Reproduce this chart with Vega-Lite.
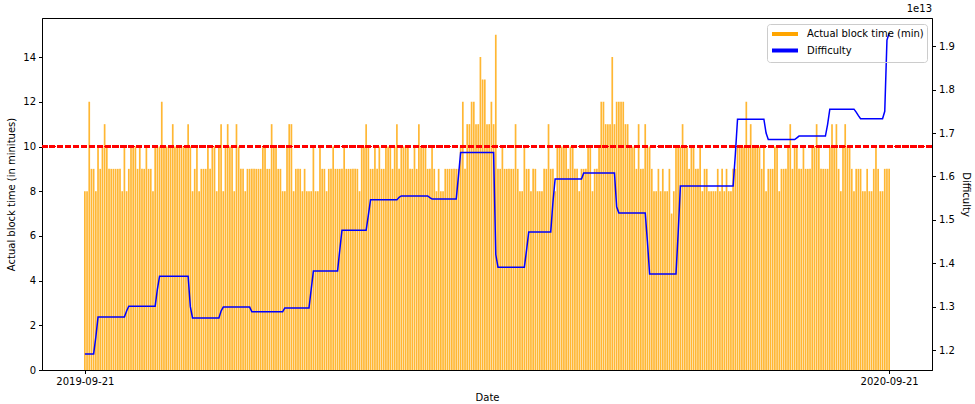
{
"$schema": "https://vega.github.io/schema/vega-lite/v6.json",
"width": 890, "height": 352,
"autosize": {"type": "none"},
"padding": {"left": 42, "top": 18, "right": 43, "bottom": 34},
"background": "white",
"title": {"text": "1e13", "anchor": "end", "frame": "group", "fontSize": 10, "fontWeight": "normal", "font": "DejaVu Sans", "color": "black", "offset": 4},
"config": {
  "font": "DejaVu Sans",
  "view": {"stroke": "black", "strokeWidth": 1},
  "axis": {"labelFont": "DejaVu Sans", "labelFontSize": 10, "labelColor": "black", "titleFont": "DejaVu Sans", "titleFontSize": 10, "titleFontWeight": "normal", "titleColor": "black", "domainColor": "black", "tickColor": "black", "tickSize": 3.5, "grid": false, "labelPadding": 3}
},
"data": {"values": [
{"date":"2019-09-21","block_time":8,"difficulty":1.191e13},
{"date":"2019-09-22","block_time":8,"difficulty":1.191e13},
{"date":"2019-09-23","block_time":12,"difficulty":1.191e13},
{"date":"2019-09-24","block_time":9,"difficulty":1.191e13},
{"date":"2019-09-25","block_time":9,"difficulty":1.191e13},
{"date":"2019-09-26","block_time":8,"difficulty":1.23e13},
{"date":"2019-09-27","block_time":10,"difficulty":1.276e13},
{"date":"2019-09-28","block_time":9,"difficulty":1.276e13},
{"date":"2019-09-29","block_time":10,"difficulty":1.276e13},
{"date":"2019-09-30","block_time":11,"difficulty":1.276e13},
{"date":"2019-10-01","block_time":10,"difficulty":1.276e13},
{"date":"2019-10-02","block_time":9,"difficulty":1.276e13},
{"date":"2019-10-03","block_time":9,"difficulty":1.276e13},
{"date":"2019-10-04","block_time":9,"difficulty":1.276e13},
{"date":"2019-10-05","block_time":9,"difficulty":1.276e13},
{"date":"2019-10-06","block_time":9,"difficulty":1.276e13},
{"date":"2019-10-07","block_time":9,"difficulty":1.276e13},
{"date":"2019-10-08","block_time":8,"difficulty":1.276e13},
{"date":"2019-10-09","block_time":10,"difficulty":1.276e13},
{"date":"2019-10-10","block_time":8,"difficulty":1.29e13},
{"date":"2019-10-11","block_time":9,"difficulty":1.301e13},
{"date":"2019-10-12","block_time":10,"difficulty":1.301e13},
{"date":"2019-10-13","block_time":10,"difficulty":1.301e13},
{"date":"2019-10-14","block_time":10,"difficulty":1.301e13},
{"date":"2019-10-15","block_time":9,"difficulty":1.301e13},
{"date":"2019-10-16","block_time":10,"difficulty":1.301e13},
{"date":"2019-10-17","block_time":9,"difficulty":1.301e13},
{"date":"2019-10-18","block_time":9,"difficulty":1.301e13},
{"date":"2019-10-19","block_time":10,"difficulty":1.301e13},
{"date":"2019-10-20","block_time":9,"difficulty":1.301e13},
{"date":"2019-10-21","block_time":9,"difficulty":1.301e13},
{"date":"2019-10-22","block_time":8,"difficulty":1.301e13},
{"date":"2019-10-23","block_time":10,"difficulty":1.301e13},
{"date":"2019-10-24","block_time":10,"difficulty":1.34e13},
{"date":"2019-10-25","block_time":10,"difficulty":1.37e13},
{"date":"2019-10-26","block_time":12,"difficulty":1.37e13},
{"date":"2019-10-27","block_time":10,"difficulty":1.37e13},
{"date":"2019-10-28","block_time":10,"difficulty":1.37e13},
{"date":"2019-10-29","block_time":10,"difficulty":1.37e13},
{"date":"2019-10-30","block_time":10,"difficulty":1.37e13},
{"date":"2019-10-31","block_time":11,"difficulty":1.37e13},
{"date":"2019-11-01","block_time":10,"difficulty":1.37e13},
{"date":"2019-11-02","block_time":10,"difficulty":1.37e13},
{"date":"2019-11-03","block_time":10,"difficulty":1.37e13},
{"date":"2019-11-04","block_time":10,"difficulty":1.37e13},
{"date":"2019-11-05","block_time":10,"difficulty":1.37e13},
{"date":"2019-11-06","block_time":10,"difficulty":1.37e13},
{"date":"2019-11-07","block_time":11,"difficulty":1.37e13},
{"date":"2019-11-08","block_time":10,"difficulty":1.30e13},
{"date":"2019-11-09","block_time":8,"difficulty":1.274e13},
{"date":"2019-11-10","block_time":9,"difficulty":1.274e13},
{"date":"2019-11-11","block_time":10,"difficulty":1.274e13},
{"date":"2019-11-12","block_time":8,"difficulty":1.274e13},
{"date":"2019-11-13","block_time":9,"difficulty":1.274e13},
{"date":"2019-11-14","block_time":9,"difficulty":1.274e13},
{"date":"2019-11-15","block_time":9,"difficulty":1.274e13},
{"date":"2019-11-16","block_time":10,"difficulty":1.274e13},
{"date":"2019-11-17","block_time":9,"difficulty":1.274e13},
{"date":"2019-11-18","block_time":10,"difficulty":1.274e13},
{"date":"2019-11-19","block_time":10,"difficulty":1.274e13},
{"date":"2019-11-20","block_time":8,"difficulty":1.274e13},
{"date":"2019-11-21","block_time":10,"difficulty":1.274e13},
{"date":"2019-11-22","block_time":11,"difficulty":1.29e13},
{"date":"2019-11-23","block_time":8,"difficulty":1.299e13},
{"date":"2019-11-24","block_time":10,"difficulty":1.299e13},
{"date":"2019-11-25","block_time":11,"difficulty":1.299e13},
{"date":"2019-11-26","block_time":10,"difficulty":1.299e13},
{"date":"2019-11-27","block_time":10,"difficulty":1.299e13},
{"date":"2019-11-28","block_time":8,"difficulty":1.299e13},
{"date":"2019-11-29","block_time":11,"difficulty":1.299e13},
{"date":"2019-11-30","block_time":10,"difficulty":1.299e13},
{"date":"2019-12-01","block_time":9,"difficulty":1.299e13},
{"date":"2019-12-02","block_time":9,"difficulty":1.299e13},
{"date":"2019-12-03","block_time":8,"difficulty":1.299e13},
{"date":"2019-12-04","block_time":9,"difficulty":1.299e13},
{"date":"2019-12-05","block_time":9,"difficulty":1.299e13},
{"date":"2019-12-06","block_time":9,"difficulty":1.288e13},
{"date":"2019-12-07","block_time":9,"difficulty":1.288e13},
{"date":"2019-12-08","block_time":9,"difficulty":1.288e13},
{"date":"2019-12-09","block_time":9,"difficulty":1.288e13},
{"date":"2019-12-10","block_time":9,"difficulty":1.288e13},
{"date":"2019-12-11","block_time":10,"difficulty":1.288e13},
{"date":"2019-12-12","block_time":10,"difficulty":1.288e13},
{"date":"2019-12-13","block_time":9,"difficulty":1.288e13},
{"date":"2019-12-14","block_time":9,"difficulty":1.288e13},
{"date":"2019-12-15","block_time":11,"difficulty":1.288e13},
{"date":"2019-12-16","block_time":10,"difficulty":1.288e13},
{"date":"2019-12-17","block_time":10,"difficulty":1.288e13},
{"date":"2019-12-18","block_time":9,"difficulty":1.288e13},
{"date":"2019-12-19","block_time":9,"difficulty":1.288e13},
{"date":"2019-12-20","block_time":8,"difficulty":1.288e13},
{"date":"2019-12-21","block_time":8,"difficulty":1.297e13},
{"date":"2019-12-22","block_time":10,"difficulty":1.297e13},
{"date":"2019-12-23","block_time":11,"difficulty":1.297e13},
{"date":"2019-12-24","block_time":11,"difficulty":1.297e13},
{"date":"2019-12-25","block_time":8,"difficulty":1.297e13},
{"date":"2019-12-26","block_time":9,"difficulty":1.297e13},
{"date":"2019-12-27","block_time":9,"difficulty":1.297e13},
{"date":"2019-12-28","block_time":9,"difficulty":1.297e13},
{"date":"2019-12-29","block_time":8,"difficulty":1.297e13},
{"date":"2019-12-30","block_time":9,"difficulty":1.297e13},
{"date":"2019-12-31","block_time":8,"difficulty":1.297e13},
{"date":"2020-01-01","block_time":8,"difficulty":1.297e13},
{"date":"2020-01-02","block_time":8,"difficulty":1.34e13},
{"date":"2020-01-03","block_time":10,"difficulty":1.382e13},
{"date":"2020-01-04","block_time":8,"difficulty":1.382e13},
{"date":"2020-01-05","block_time":8,"difficulty":1.382e13},
{"date":"2020-01-06","block_time":10,"difficulty":1.382e13},
{"date":"2020-01-07","block_time":9,"difficulty":1.382e13},
{"date":"2020-01-08","block_time":9,"difficulty":1.382e13},
{"date":"2020-01-09","block_time":8,"difficulty":1.382e13},
{"date":"2020-01-10","block_time":9,"difficulty":1.382e13},
{"date":"2020-01-11","block_time":9,"difficulty":1.382e13},
{"date":"2020-01-12","block_time":10,"difficulty":1.382e13},
{"date":"2020-01-13","block_time":9,"difficulty":1.382e13},
{"date":"2020-01-14","block_time":9,"difficulty":1.382e13},
{"date":"2020-01-15","block_time":9,"difficulty":1.43e13},
{"date":"2020-01-16","block_time":9,"difficulty":1.476e13},
{"date":"2020-01-17","block_time":10,"difficulty":1.476e13},
{"date":"2020-01-18","block_time":9,"difficulty":1.476e13},
{"date":"2020-01-19","block_time":9,"difficulty":1.476e13},
{"date":"2020-01-20","block_time":9,"difficulty":1.476e13},
{"date":"2020-01-21","block_time":9,"difficulty":1.476e13},
{"date":"2020-01-22","block_time":9,"difficulty":1.476e13},
{"date":"2020-01-23","block_time":9,"difficulty":1.476e13},
{"date":"2020-01-24","block_time":8,"difficulty":1.476e13},
{"date":"2020-01-25","block_time":10,"difficulty":1.476e13},
{"date":"2020-01-26","block_time":10,"difficulty":1.476e13},
{"date":"2020-01-27","block_time":11,"difficulty":1.476e13},
{"date":"2020-01-28","block_time":10,"difficulty":1.51e13},
{"date":"2020-01-29","block_time":9,"difficulty":1.546e13},
{"date":"2020-01-30","block_time":9,"difficulty":1.546e13},
{"date":"2020-01-31","block_time":10,"difficulty":1.546e13},
{"date":"2020-02-01","block_time":9,"difficulty":1.546e13},
{"date":"2020-02-02","block_time":10,"difficulty":1.546e13},
{"date":"2020-02-03","block_time":9,"difficulty":1.546e13},
{"date":"2020-02-04","block_time":9,"difficulty":1.546e13},
{"date":"2020-02-05","block_time":10,"difficulty":1.546e13},
{"date":"2020-02-06","block_time":10,"difficulty":1.546e13},
{"date":"2020-02-07","block_time":10,"difficulty":1.546e13},
{"date":"2020-02-08","block_time":9,"difficulty":1.546e13},
{"date":"2020-02-09","block_time":10,"difficulty":1.546e13},
{"date":"2020-02-10","block_time":11,"difficulty":1.546e13},
{"date":"2020-02-11","block_time":9,"difficulty":1.552e13},
{"date":"2020-02-12","block_time":10,"difficulty":1.555e13},
{"date":"2020-02-13","block_time":10,"difficulty":1.555e13},
{"date":"2020-02-14","block_time":10,"difficulty":1.555e13},
{"date":"2020-02-15","block_time":10,"difficulty":1.555e13},
{"date":"2020-02-16","block_time":9,"difficulty":1.555e13},
{"date":"2020-02-17","block_time":9,"difficulty":1.555e13},
{"date":"2020-02-18","block_time":10,"difficulty":1.555e13},
{"date":"2020-02-19","block_time":9,"difficulty":1.555e13},
{"date":"2020-02-20","block_time":11,"difficulty":1.555e13},
{"date":"2020-02-21","block_time":10,"difficulty":1.555e13},
{"date":"2020-02-22","block_time":10,"difficulty":1.555e13},
{"date":"2020-02-23","block_time":10,"difficulty":1.555e13},
{"date":"2020-02-24","block_time":9,"difficulty":1.555e13},
{"date":"2020-02-25","block_time":9,"difficulty":1.551e13},
{"date":"2020-02-26","block_time":10,"difficulty":1.548e13},
{"date":"2020-02-27","block_time":9,"difficulty":1.548e13},
{"date":"2020-02-28","block_time":8,"difficulty":1.548e13},
{"date":"2020-02-29","block_time":9,"difficulty":1.548e13},
{"date":"2020-03-01","block_time":8,"difficulty":1.548e13},
{"date":"2020-03-02","block_time":8,"difficulty":1.548e13},
{"date":"2020-03-03","block_time":9,"difficulty":1.548e13},
{"date":"2020-03-04","block_time":9,"difficulty":1.548e13},
{"date":"2020-03-05","block_time":9,"difficulty":1.548e13},
{"date":"2020-03-06","block_time":9,"difficulty":1.548e13},
{"date":"2020-03-07","block_time":9,"difficulty":1.548e13},
{"date":"2020-03-08","block_time":9,"difficulty":1.548e13},
{"date":"2020-03-09","block_time":9,"difficulty":1.60e13},
{"date":"2020-03-10","block_time":10,"difficulty":1.655e13},
{"date":"2020-03-11","block_time":12,"difficulty":1.655e13},
{"date":"2020-03-12","block_time":9,"difficulty":1.655e13},
{"date":"2020-03-13","block_time":11,"difficulty":1.655e13},
{"date":"2020-03-14","block_time":11,"difficulty":1.655e13},
{"date":"2020-03-15","block_time":12,"difficulty":1.655e13},
{"date":"2020-03-16","block_time":12,"difficulty":1.655e13},
{"date":"2020-03-17","block_time":11,"difficulty":1.655e13},
{"date":"2020-03-18","block_time":11,"difficulty":1.655e13},
{"date":"2020-03-19","block_time":14,"difficulty":1.655e13},
{"date":"2020-03-20","block_time":13,"difficulty":1.655e13},
{"date":"2020-03-21","block_time":13,"difficulty":1.655e13},
{"date":"2020-03-22","block_time":11,"difficulty":1.655e13},
{"date":"2020-03-23","block_time":11,"difficulty":1.655e13},
{"date":"2020-03-24","block_time":12,"difficulty":1.655e13},
{"date":"2020-03-25","block_time":11,"difficulty":1.655e13},
{"date":"2020-03-26","block_time":15,"difficulty":1.42e13},
{"date":"2020-03-27","block_time":9,"difficulty":1.391e13},
{"date":"2020-03-28","block_time":9,"difficulty":1.391e13},
{"date":"2020-03-29","block_time":10,"difficulty":1.391e13},
{"date":"2020-03-30","block_time":9,"difficulty":1.391e13},
{"date":"2020-03-31","block_time":9,"difficulty":1.391e13},
{"date":"2020-04-01","block_time":9,"difficulty":1.391e13},
{"date":"2020-04-02","block_time":9,"difficulty":1.391e13},
{"date":"2020-04-03","block_time":9,"difficulty":1.391e13},
{"date":"2020-04-04","block_time":11,"difficulty":1.391e13},
{"date":"2020-04-05","block_time":9,"difficulty":1.391e13},
{"date":"2020-04-06","block_time":8,"difficulty":1.391e13},
{"date":"2020-04-07","block_time":8,"difficulty":1.391e13},
{"date":"2020-04-08","block_time":10,"difficulty":1.391e13},
{"date":"2020-04-09","block_time":9,"difficulty":1.43e13},
{"date":"2020-04-10","block_time":9,"difficulty":1.472e13},
{"date":"2020-04-11","block_time":8,"difficulty":1.472e13},
{"date":"2020-04-12","block_time":9,"difficulty":1.472e13},
{"date":"2020-04-13","block_time":9,"difficulty":1.472e13},
{"date":"2020-04-14","block_time":8,"difficulty":1.472e13},
{"date":"2020-04-15","block_time":8,"difficulty":1.472e13},
{"date":"2020-04-16","block_time":8,"difficulty":1.472e13},
{"date":"2020-04-17","block_time":9,"difficulty":1.472e13},
{"date":"2020-04-18","block_time":9,"difficulty":1.472e13},
{"date":"2020-04-19","block_time":11,"difficulty":1.472e13},
{"date":"2020-04-20","block_time":9,"difficulty":1.472e13},
{"date":"2020-04-21","block_time":9,"difficulty":1.54e13},
{"date":"2020-04-22","block_time":8,"difficulty":1.594e13},
{"date":"2020-04-23","block_time":10,"difficulty":1.594e13},
{"date":"2020-04-24","block_time":10,"difficulty":1.594e13},
{"date":"2020-04-25","block_time":10,"difficulty":1.594e13},
{"date":"2020-04-26","block_time":10,"difficulty":1.594e13},
{"date":"2020-04-27","block_time":10,"difficulty":1.594e13},
{"date":"2020-04-28","block_time":9,"difficulty":1.594e13},
{"date":"2020-04-29","block_time":10,"difficulty":1.594e13},
{"date":"2020-04-30","block_time":10,"difficulty":1.594e13},
{"date":"2020-05-01","block_time":9,"difficulty":1.594e13},
{"date":"2020-05-02","block_time":9,"difficulty":1.594e13},
{"date":"2020-05-03","block_time":8,"difficulty":1.594e13},
{"date":"2020-05-04","block_time":9,"difficulty":1.594e13},
{"date":"2020-05-05","block_time":9,"difficulty":1.608e13},
{"date":"2020-05-06","block_time":9,"difficulty":1.608e13},
{"date":"2020-05-07","block_time":10,"difficulty":1.608e13},
{"date":"2020-05-08","block_time":10,"difficulty":1.608e13},
{"date":"2020-05-09","block_time":8,"difficulty":1.608e13},
{"date":"2020-05-10","block_time":9,"difficulty":1.608e13},
{"date":"2020-05-11","block_time":9,"difficulty":1.608e13},
{"date":"2020-05-12","block_time":10,"difficulty":1.608e13},
{"date":"2020-05-13","block_time":12,"difficulty":1.608e13},
{"date":"2020-05-14","block_time":12,"difficulty":1.608e13},
{"date":"2020-05-15","block_time":11,"difficulty":1.608e13},
{"date":"2020-05-16","block_time":11,"difficulty":1.608e13},
{"date":"2020-05-17","block_time":11,"difficulty":1.608e13},
{"date":"2020-05-18","block_time":14,"difficulty":1.608e13},
{"date":"2020-05-19","block_time":11,"difficulty":1.608e13},
{"date":"2020-05-20","block_time":12,"difficulty":1.53e13},
{"date":"2020-05-21","block_time":12,"difficulty":1.516e13},
{"date":"2020-05-22","block_time":12,"difficulty":1.516e13},
{"date":"2020-05-23","block_time":12,"difficulty":1.516e13},
{"date":"2020-05-24","block_time":11,"difficulty":1.516e13},
{"date":"2020-05-25","block_time":11,"difficulty":1.516e13},
{"date":"2020-05-26","block_time":10,"difficulty":1.516e13},
{"date":"2020-05-27","block_time":10,"difficulty":1.516e13},
{"date":"2020-05-28","block_time":10,"difficulty":1.516e13},
{"date":"2020-05-29","block_time":9,"difficulty":1.516e13},
{"date":"2020-05-30","block_time":11,"difficulty":1.516e13},
{"date":"2020-05-31","block_time":9,"difficulty":1.516e13},
{"date":"2020-06-01","block_time":9,"difficulty":1.516e13},
{"date":"2020-06-02","block_time":11,"difficulty":1.516e13},
{"date":"2020-06-03","block_time":10,"difficulty":1.45e13},
{"date":"2020-06-04","block_time":10,"difficulty":1.375e13},
{"date":"2020-06-05","block_time":9,"difficulty":1.375e13},
{"date":"2020-06-06","block_time":8,"difficulty":1.375e13},
{"date":"2020-06-07","block_time":8,"difficulty":1.375e13},
{"date":"2020-06-08","block_time":9,"difficulty":1.375e13},
{"date":"2020-06-09","block_time":8,"difficulty":1.375e13},
{"date":"2020-06-10","block_time":9,"difficulty":1.375e13},
{"date":"2020-06-11","block_time":8,"difficulty":1.375e13},
{"date":"2020-06-12","block_time":8,"difficulty":1.375e13},
{"date":"2020-06-13","block_time":9,"difficulty":1.375e13},
{"date":"2020-06-14","block_time":7,"difficulty":1.375e13},
{"date":"2020-06-15","block_time":8,"difficulty":1.375e13},
{"date":"2020-06-16","block_time":10,"difficulty":1.375e13},
{"date":"2020-06-17","block_time":10,"difficulty":1.47e13},
{"date":"2020-06-18","block_time":10,"difficulty":1.578e13},
{"date":"2020-06-19","block_time":11,"difficulty":1.578e13},
{"date":"2020-06-20","block_time":10,"difficulty":1.578e13},
{"date":"2020-06-21","block_time":10,"difficulty":1.578e13},
{"date":"2020-06-22","block_time":9,"difficulty":1.578e13},
{"date":"2020-06-23","block_time":10,"difficulty":1.578e13},
{"date":"2020-06-24","block_time":10,"difficulty":1.578e13},
{"date":"2020-06-25","block_time":9,"difficulty":1.578e13},
{"date":"2020-06-26","block_time":9,"difficulty":1.578e13},
{"date":"2020-06-27","block_time":10,"difficulty":1.578e13},
{"date":"2020-06-28","block_time":8,"difficulty":1.578e13},
{"date":"2020-06-29","block_time":9,"difficulty":1.578e13},
{"date":"2020-06-30","block_time":9,"difficulty":1.578e13},
{"date":"2020-07-01","block_time":8,"difficulty":1.578e13},
{"date":"2020-07-02","block_time":8,"difficulty":1.578e13},
{"date":"2020-07-03","block_time":8,"difficulty":1.578e13},
{"date":"2020-07-04","block_time":8,"difficulty":1.578e13},
{"date":"2020-07-05","block_time":9,"difficulty":1.578e13},
{"date":"2020-07-06","block_time":8,"difficulty":1.578e13},
{"date":"2020-07-07","block_time":9,"difficulty":1.578e13},
{"date":"2020-07-08","block_time":8,"difficulty":1.578e13},
{"date":"2020-07-09","block_time":9,"difficulty":1.578e13},
{"date":"2020-07-10","block_time":8,"difficulty":1.578e13},
{"date":"2020-07-11","block_time":8,"difficulty":1.578e13},
{"date":"2020-07-12","block_time":9,"difficulty":1.578e13},
{"date":"2020-07-13","block_time":9,"difficulty":1.65e13},
{"date":"2020-07-14","block_time":10,"difficulty":1.732e13},
{"date":"2020-07-15","block_time":10,"difficulty":1.732e13},
{"date":"2020-07-16","block_time":10,"difficulty":1.732e13},
{"date":"2020-07-17","block_time":10,"difficulty":1.732e13},
{"date":"2020-07-18","block_time":12,"difficulty":1.732e13},
{"date":"2020-07-19","block_time":10,"difficulty":1.732e13},
{"date":"2020-07-20","block_time":11,"difficulty":1.732e13},
{"date":"2020-07-21","block_time":10,"difficulty":1.732e13},
{"date":"2020-07-22","block_time":10,"difficulty":1.732e13},
{"date":"2020-07-23","block_time":10,"difficulty":1.732e13},
{"date":"2020-07-24","block_time":10,"difficulty":1.732e13},
{"date":"2020-07-25","block_time":9,"difficulty":1.732e13},
{"date":"2020-07-26","block_time":10,"difficulty":1.732e13},
{"date":"2020-07-27","block_time":8,"difficulty":1.70e13},
{"date":"2020-07-28","block_time":9,"difficulty":1.685e13},
{"date":"2020-07-29","block_time":9,"difficulty":1.685e13},
{"date":"2020-07-30","block_time":9,"difficulty":1.685e13},
{"date":"2020-07-31","block_time":10,"difficulty":1.685e13},
{"date":"2020-08-01","block_time":10,"difficulty":1.685e13},
{"date":"2020-08-02","block_time":8,"difficulty":1.685e13},
{"date":"2020-08-03","block_time":9,"difficulty":1.685e13},
{"date":"2020-08-04","block_time":9,"difficulty":1.685e13},
{"date":"2020-08-05","block_time":9,"difficulty":1.685e13},
{"date":"2020-08-06","block_time":10,"difficulty":1.685e13},
{"date":"2020-08-07","block_time":11,"difficulty":1.685e13},
{"date":"2020-08-08","block_time":9,"difficulty":1.685e13},
{"date":"2020-08-09","block_time":10,"difficulty":1.685e13},
{"date":"2020-08-10","block_time":10,"difficulty":1.689e13},
{"date":"2020-08-11","block_time":9,"difficulty":1.693e13},
{"date":"2020-08-12","block_time":9,"difficulty":1.693e13},
{"date":"2020-08-13","block_time":10,"difficulty":1.693e13},
{"date":"2020-08-14","block_time":9,"difficulty":1.693e13},
{"date":"2020-08-15","block_time":9,"difficulty":1.693e13},
{"date":"2020-08-16","block_time":9,"difficulty":1.693e13},
{"date":"2020-08-17","block_time":10,"difficulty":1.693e13},
{"date":"2020-08-18","block_time":10,"difficulty":1.693e13},
{"date":"2020-08-19","block_time":11,"difficulty":1.693e13},
{"date":"2020-08-20","block_time":10,"difficulty":1.693e13},
{"date":"2020-08-21","block_time":9,"difficulty":1.693e13},
{"date":"2020-08-22","block_time":9,"difficulty":1.693e13},
{"date":"2020-08-23","block_time":9,"difficulty":1.693e13},
{"date":"2020-08-24","block_time":9,"difficulty":1.72e13},
{"date":"2020-08-25","block_time":10,"difficulty":1.755e13},
{"date":"2020-08-26","block_time":11,"difficulty":1.755e13},
{"date":"2020-08-27","block_time":10,"difficulty":1.755e13},
{"date":"2020-08-28","block_time":11,"difficulty":1.755e13},
{"date":"2020-08-29","block_time":9,"difficulty":1.755e13},
{"date":"2020-08-30","block_time":8,"difficulty":1.755e13},
{"date":"2020-08-31","block_time":10,"difficulty":1.755e13},
{"date":"2020-09-01","block_time":11,"difficulty":1.755e13},
{"date":"2020-09-02","block_time":10,"difficulty":1.755e13},
{"date":"2020-09-03","block_time":10,"difficulty":1.755e13},
{"date":"2020-09-04","block_time":9,"difficulty":1.755e13},
{"date":"2020-09-05","block_time":8,"difficulty":1.755e13},
{"date":"2020-09-06","block_time":9,"difficulty":1.748e13},
{"date":"2020-09-07","block_time":9,"difficulty":1.74e13},
{"date":"2020-09-08","block_time":9,"difficulty":1.733e13},
{"date":"2020-09-09","block_time":8,"difficulty":1.733e13},
{"date":"2020-09-10","block_time":8,"difficulty":1.733e13},
{"date":"2020-09-11","block_time":9,"difficulty":1.733e13},
{"date":"2020-09-12","block_time":8,"difficulty":1.733e13},
{"date":"2020-09-13","block_time":8,"difficulty":1.733e13},
{"date":"2020-09-14","block_time":9,"difficulty":1.733e13},
{"date":"2020-09-15","block_time":10,"difficulty":1.733e13},
{"date":"2020-09-16","block_time":9,"difficulty":1.733e13},
{"date":"2020-09-17","block_time":8,"difficulty":1.733e13},
{"date":"2020-09-18","block_time":8,"difficulty":1.733e13},
{"date":"2020-09-19","block_time":9,"difficulty":1.75e13},
{"date":"2020-09-20","block_time":9,"difficulty":1.914e13},
{"date":"2020-09-21","block_time":9,"difficulty":1.93e13}
]},
"layer": [
  {"layer": [
    {"mark": {"type": "bar", "size": 1.7, "color": "orange", "opacity": 0.8},
     "encoding": {
       "x": {"field": "date", "type": "temporal",
             "scale": {"type": "utc", "domain": [1567339200000, 1602331200000], "nice": false, "padding": 0},
             "axis": {"title": "Date", "values": [1569024000000, 1600646400000], "labelExpr": "utcFormat(datum.value, '%Y-%m-%d')", "labelFlush": false, "titlePadding": 6}},
       "y": {"field": "block_time", "type": "quantitative",
             "scale": {"domain": [0, 15.75], "nice": false},
             "axis": {"title": "Actual block time (in minitues)", "values": [0, 2, 4, 6, 8, 10, 12, 14], "titlePadding": 6}},
       "color": {"datum": "Actual block time (min)", "type": "nominal",
                 "scale": {"domain": ["Actual block time (min)", "Difficulty"], "range": ["orange", "blue"]},
                 "legend": {"title": null, "orient": "top-right", "offset": 5.5, "fillColor": "transparent", "strokeColor": "#cccccc", "cornerRadius": 3, "padding": 3, "rowPadding": 0.5,
                            "labelFont": "DejaVu Sans", "labelFontSize": 10, "labelColor": "black", "labelOffset": 23,
                            "symbolType": "M-1,0H4.2", "symbolSize": 100, "symbolStrokeWidth": 4, "symbolOpacity": 1,
                            "encode": {"symbols": {"update": {"stroke": {"scale": "color", "field": "value"}, "fill": {"value": "transparent"}, "strokeWidth": {"value": 4}, "opacity": {"value": 1}}}}}}
     }},
    {"mark": {"type": "rule", "color": "red", "strokeDash": [5.5, 2.4], "strokeWidth": 1.3},
     "encoding": {"y": {"datum": 10, "type": "quantitative"}}}
  ]},
  {"mark": {"type": "line", "strokeWidth": 1.5},
   "encoding": {
     "x": {"field": "date", "type": "temporal"},
     "y": {"field": "difficulty", "type": "quantitative",
           "scale": {"domain": [1.154e13, 1.965e13], "nice": false, "zero": false},
           "axis": {"orient": "right", "title": "Difficulty", "values": [1.2e13, 1.3e13, 1.4e13, 1.5e13, 1.6e13, 1.7e13, 1.8e13, 1.9e13], "labelExpr": "format(datum.value / 1e13, '.1f')", "titlePadding": 6}},
     "color": {"datum": "Difficulty", "type": "nominal"}
   }}
],
"resolve": {"scale": {"y": "independent"}}
}
